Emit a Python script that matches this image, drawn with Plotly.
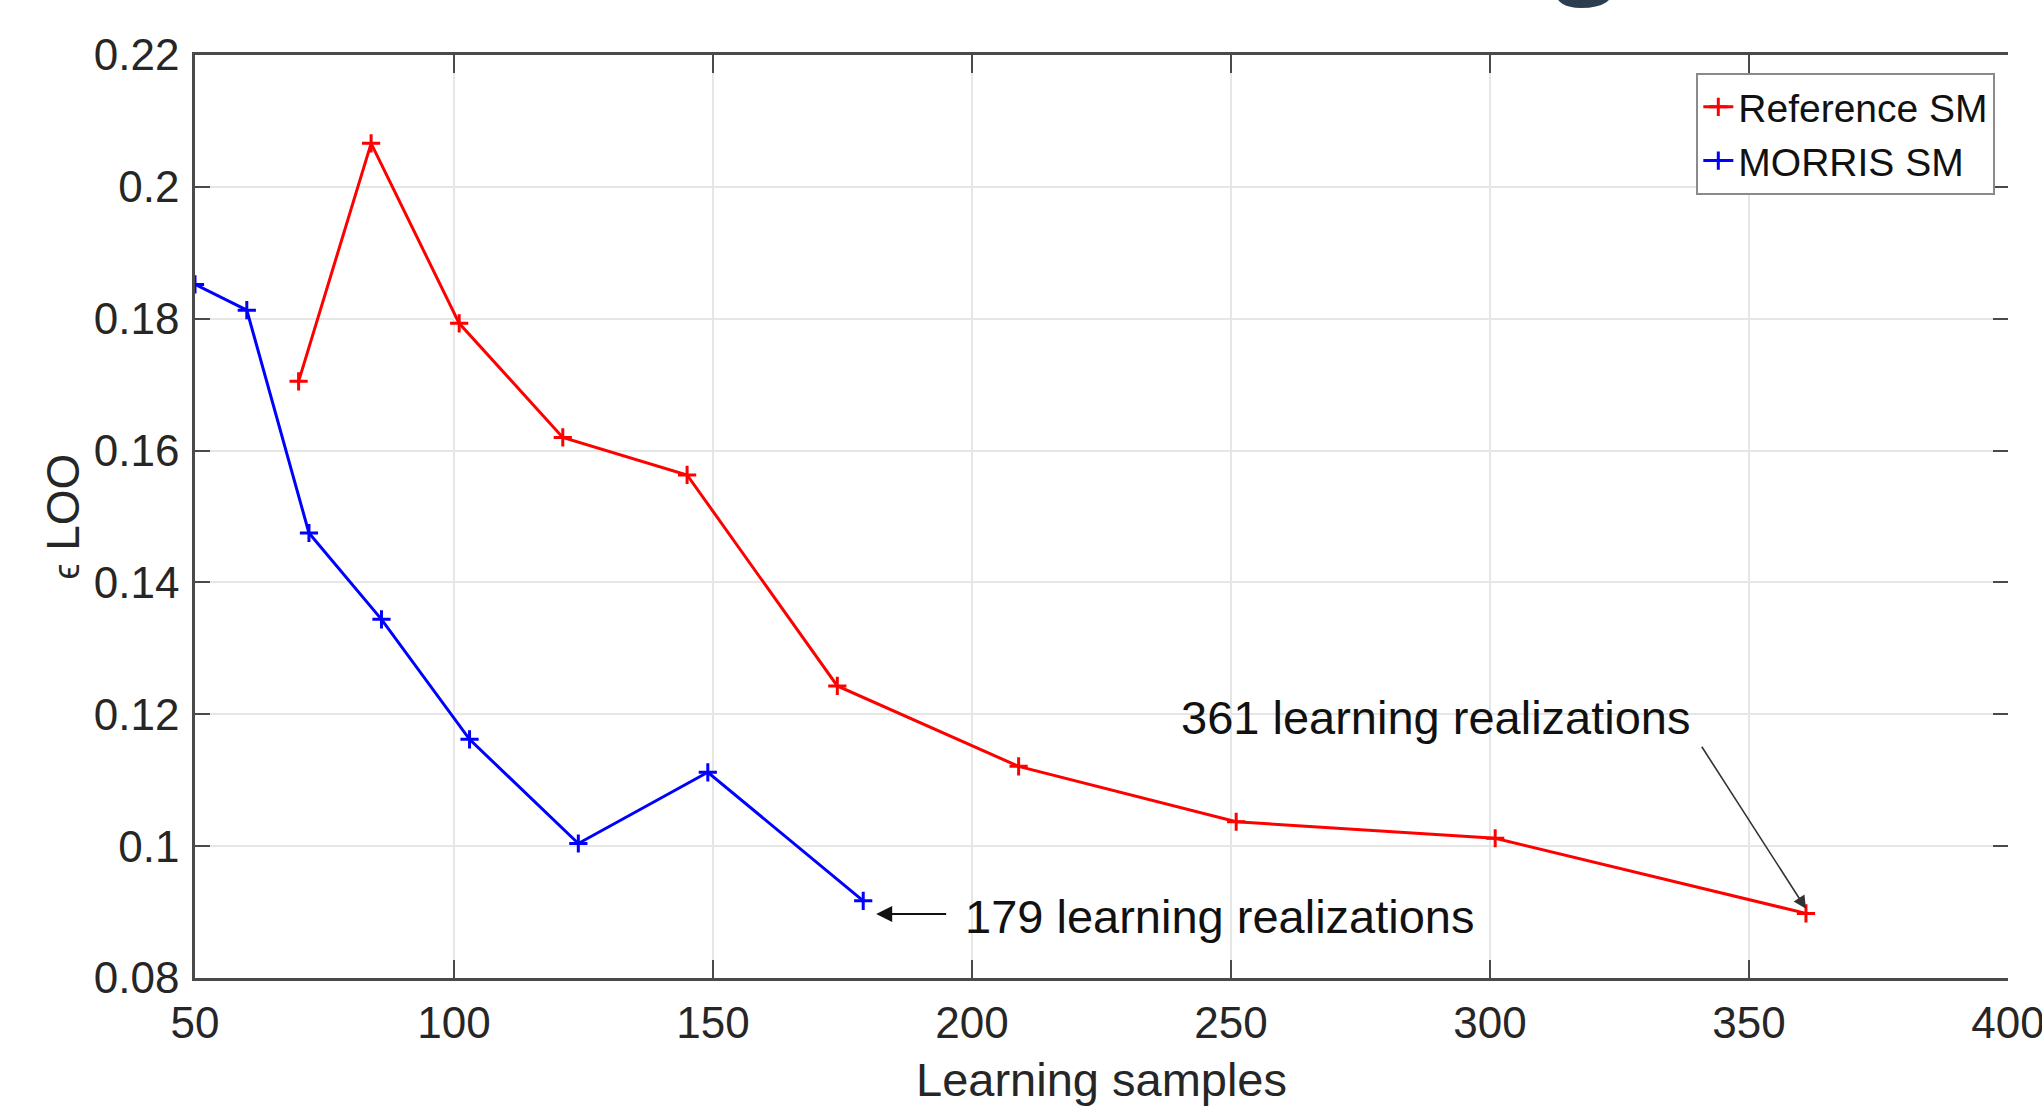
import plotly.graph_objects as go

# ---- data ----
ref_x = [70, 84, 101, 121, 145, 174, 209, 251, 301, 361]
ref_y = [0.1705, 0.2066, 0.1793, 0.1620, 0.1563, 0.1243, 0.1121, 0.1037, 0.1012, 0.0898]

mor_x = [50, 60, 72, 86, 103, 124, 149, 179]
mor_y = [0.1852, 0.1813, 0.1475, 0.1344, 0.1162, 0.1004, 0.1112, 0.0917]

x_ticks = [50, 100, 150, 200, 250, 300, 350, 400]
y_ticks = [0.08, 0.1, 0.12, 0.14, 0.16, 0.18, 0.2, 0.22]
y_tick_text = ["0.08", "0.1", "0.12", "0.14", "0.16", "0.18", "0.2", "0.22"]

FONT = "Liberation Sans, Arial, sans-serif"
TXT = "#262626"
SPINE = "#4a4a4a"
GRID = "#e6e6e6"

fig = go.Figure()

fig.add_trace(go.Scatter(
    x=ref_x, y=ref_y, mode="lines+markers", name="Reference SM",
    line=dict(color="#ff0000", width=3),
    marker=dict(symbol="cross-thin", size=13, color="#ff0000",
                line=dict(color="#ff0000", width=3)),
))
fig.add_trace(go.Scatter(
    x=mor_x, y=mor_y, mode="lines+markers", name="MORRIS SM",
    line=dict(color="#0000ff", width=3),
    marker=dict(symbol="cross-thin", size=13, color="#0000ff",
                line=dict(color="#0000ff", width=3)),
))
# invisible helper trace so the right-hand tick axis is drawn
fig.add_trace(go.Scatter(
    x=mor_x, y=mor_y, yaxis="y2", mode="lines", opacity=0,
    showlegend=False, hoverinfo="skip",
))

# annotations
fig.add_annotation(x=289.5, y=0.1195, xref="x", yref="y",
                   text="361 learning realizations", showarrow=False,
                   font=dict(family=FONT, size=47, color="#111111"))
fig.add_annotation(x=361, y=0.0905, ax=340.7, ay=0.1153,
                   xref="x", yref="y", axref="x", ayref="y",
                   text="", showarrow=True, arrowhead=2, arrowsize=1.6,
                   arrowwidth=1.6, arrowcolor="#333333", standoff=0)
fig.add_annotation(x=247.8, y=0.0893, xref="x", yref="y",
                   text="179 learning realizations", showarrow=False,
                   font=dict(family=FONT, size=47, color="#111111"))
fig.add_annotation(x=181.5, y=0.0897, ax=195.3, ay=0.0897,
                   xref="x", yref="y", axref="x", ayref="y",
                   text="", showarrow=True, arrowhead=2, arrowsize=1.6,
                   arrowwidth=2, arrowcolor="#111111", standoff=0)

# cut-off glyph at the very top of the image
fig.add_annotation(x=0.767, y=1.042, xref="paper", yref="paper",
                   text="<b>g</b>", showarrow=False, xanchor="center",
                   yanchor="bottom",
                   font=dict(family="Open Sans, sans-serif", size=110,
                             color="#2b3e50"))

fig.update_layout(
    width=2042, height=1116,
    margin=dict(l=195, r=34, t=55, b=138, autoexpand=False),
    paper_bgcolor="white", plot_bgcolor="white",
    font=dict(family=FONT, color=TXT),
    showlegend=True,
    legend=dict(x=0.993, y=0.9805, xanchor="right", yanchor="top",
                bgcolor="white", bordercolor="#8a8a8a", borderwidth=2,
                font=dict(family=FONT, size=39, color="#111111"),
                tracegroupgap=0),
    xaxis=dict(range=[50, 400], tickvals=x_ticks, automargin=False,
               showgrid=True, gridcolor=GRID, gridwidth=1.5,
               zeroline=False, showline=True, linecolor=SPINE, linewidth=2.5,
               mirror="ticks", ticks="inside", ticklen=18, tickwidth=2,
               tickcolor=SPINE, ticklabelstandoff=4,
               ticklabeloverflow="allow",
               tickfont=dict(family=FONT, size=44, color=TXT),
               title=dict(text="Learning samples", standoff=18,
                          font=dict(family=FONT, size=47, color=TXT))),
    yaxis=dict(range=[0.08, 0.22], tickvals=y_ticks, ticktext=y_tick_text,
               automargin=False,
               showgrid=True, gridcolor=GRID, gridwidth=1.5,
               zeroline=False, showline=True, linecolor=SPINE, linewidth=2.5,
               mirror=False, ticks="inside", ticklen=15, tickwidth=2,
               tickcolor=SPINE, ticklabelstandoff=4,
               tickfont=dict(family=FONT, size=44, color=TXT),
               title=dict(text="<span style='font-size:36px'>ϵ</span> LOO",
                          standoff=0,
                          font=dict(family=FONT, size=46, color=TXT))),
    yaxis2=dict(range=[0.08, 0.22], tickvals=y_ticks, overlaying="y",
                side="right", showgrid=False, zeroline=False, showline=False,
                automargin=False,
                ticks="inside", ticklen=15, tickwidth=2, tickcolor=SPINE,
                showticklabels=False),
)

fig.write_html("out.html")
